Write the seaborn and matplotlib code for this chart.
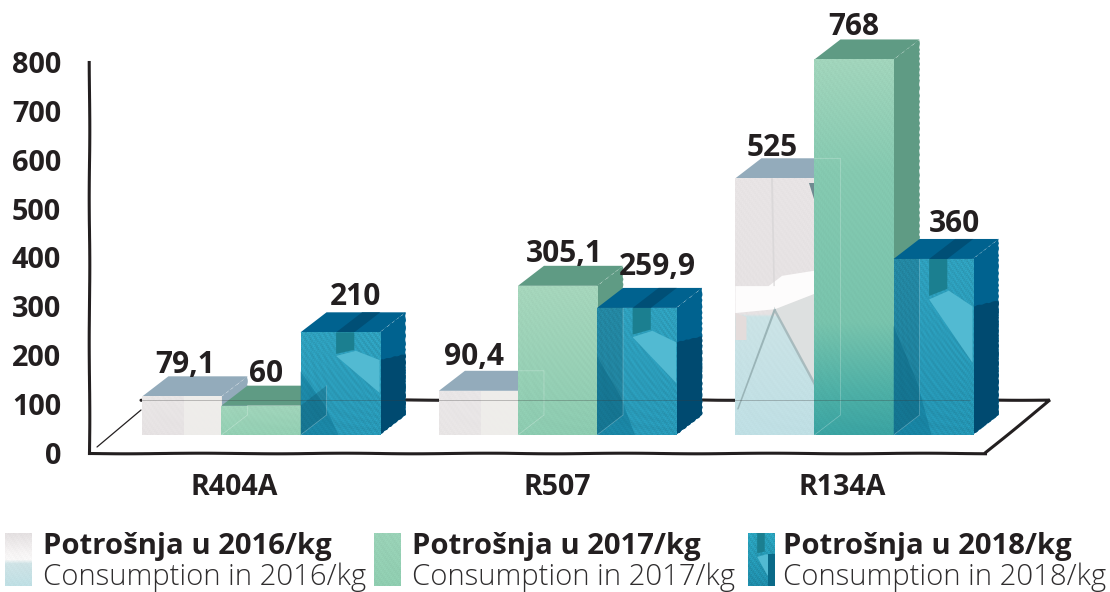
import numpy as np
import pandas as pd
import seaborn as sns
import matplotlib
matplotlib.use("Agg")
import matplotlib.pyplot as plt
from matplotlib.colors import to_rgb
from matplotlib.patches import Polygon

# ---- data -------------------------------------------------------------
refrigerants = ["R404A", "R507", "R134A"]
years = ["2016", "2017", "2018"]
values_2016 = [79.1, 90.4, 525]
values_2017 = [60, 305.1, 768]
values_2018 = [210, 259.9, 360]
value_labels_2016 = ["79,1", "90,4", "525"]
value_labels_2017 = ["60", "305,1", "768"]
value_labels_2018 = ["210", "259,9", "360"]
y_ticks = [0, 100, 200, 300, 400, 500, 600, 700, 800]
legend_bold = ["Potrošnja u 2016/kg", "Potrošnja u 2017/kg", "Potrošnja u 2018/kg"]
legend_light = ["Consumption in 2016/kg", "Consumption in 2017/kg", "Consumption in 2018/kg"]

# ---- layout -----------------------------------------------------------
W, H = 1110, 592
PX_PER_UNIT = 0.489       # vertical pixels per kg
ZERO_PX = 453             # pixel row of the value 0
GROUP_PX = 296.5          # pixels between refrigerant groups
FIRST_GROUP_PX = 261      # pixel column of the first group centre
FLOOR_LIFT = 36.8         # bars stand this far up the floor plane (kg units)
DEPTH_X = 26 / GROUP_PX   # receding offset of the boxes
DEPTH_Y = 20 / PX_PER_UNIT
INK = "#231f20"


def x_of(px):
    return (px - FIRST_GROUP_PX) / GROUP_PX


def y_of(px):
    return (ZERO_PX - px) / PX_PER_UNIT


def gradient(x0, x1, y0, y1, stops, grain):
    """RGB array with a vertical colour ramp and a fine mottled ripple."""
    nx = max(int((x1 - x0) * GROUP_PX), 4)
    ny = max(int((y1 - y0) * PX_PER_UNIT), 4)
    xx, yy = np.meshgrid(np.arange(nx), np.arange(ny))
    pos = [s[0] for s in stops]
    rgb = np.array([to_rgb(s[1]) for s in stops])
    f = np.linspace(0, 1, ny)
    ramp = np.stack([np.interp(f, pos, rgb[:, c]) for c in range(3)], axis=-1)
    img = np.repeat(ramp[:, None, :], nx, axis=1)
    ripple = (np.sin(xx * 1.13 + yy * 0.87) + 0.8 * np.sin(xx * 2.31 - yy * 1.37)
              + 0.7 * np.sin(xx * 0.71 + yy * 3.13) + 0.6 * np.sin(xx * 3.7 + yy * 2.9)
              + 0.5 * np.sin(xx * yy * 0.013))
    return np.clip(img * (1 + grain * ripple[..., None]), 0, 1)


# Front-face colour ramps, listed bottom to top for each bar
ramps = {
    "2016": [[(0, "#e6e2e3"), (1, "#e9e6e6")],
             [(0, "#e8e5e5"), (1, "#e9e6e7")],
             [(0, "#bfdfe4"), (0.46, "#cbe3e6"), (0.47, "#e6e2e3"), (1, "#e8e4e5")]],
    "2017": [[(0, "#93cfb3"), (1, "#a0d4ba")],
             [(0, "#8ccbb0"), (1, "#a6d6bc")],
             [(0, "#3aa3a2"), (0.12, "#4fb0a6"), (0.3, "#78c3ac"), (0.7, "#85c9b0"), (1, "#a2d5bc")]],
    "2018": [[(0, "#2898b6"), (1, "#2fa0bd")],
             [(0, "#2898b6"), (1, "#2fa0bd")],
             [(0, "#2494b2"), (1, "#2fa0bd")]],
}
top_colors = {"2016": "#93abbb", "2017": "#5f9b84", "2018": "#00628f"}
side_dark = {"2016": "#93abbb", "2017": "#5f9b84", "2018": "#004a70"}
grain_amount = {"2016": 0.006, "2017": 0.01, "2018": 0.035}

# ---- chart ------------------------------------------------------------
sns.set_theme(style="white")
plt.rcParams["font.family"] = ["Open Sans", "DejaVu Sans"]

df = pd.DataFrame({
    "refrigerant": refrigerants * 3,
    "year": np.repeat(years, 3),
    "kg": values_2016 + values_2017 + values_2018,
})

fig = plt.figure(figsize=(W / 100, H / 100), dpi=100, facecolor="white")
ax = fig.add_axes([0, 0, 1, 1], facecolor="none")
palette = dict(zip(years, ["#e6e2e3", "#93cfb3", "#2898b6"]))
sns.barplot(data=df, x="refrigerant", y="kg", hue="year", order=refrigerants,
            hue_order=years, palette=palette, width=0.80, gap=0,
            bottom=FLOOR_LIFT, legend=False, ax=ax, linewidth=0, errorbar=None)

ax.set_xlim(x_of(0), x_of(W))
ax.set_ylim(y_of(H), y_of(0))
ax.set_xlabel("")
ax.set_ylabel("")

# Axis frame drawn as the corner of the floor and wall
sketch = (0.3, 160, 2)
left_x, right_x = x_of(89), x_of(985)
ax.spines["top"].set_visible(False)
ax.spines["right"].set_visible(False)
ax.spines["left"].set_position(("data", left_x))
ax.spines["left"].set_bounds(0, 800)
ax.spines["bottom"].set_position(("data", 0))
ax.spines["bottom"].set_bounds(left_x, right_x)
for name in ("left", "bottom"):
    ax.spines[name].set_color(INK)
    ax.spines[name].set_linewidth(2.2)
    ax.spines[name].set_sketch_params(*sketch)
    ax.spines[name].set_zorder(1)

ax.set_yticks(y_ticks)
ax.set_yticklabels([str(t) for t in y_ticks], fontweight="bold", fontsize=20.8, color=INK,
                   va="center_baseline")
ax.tick_params(axis="y", length=0, pad=20)
ax.set_xticks([x_of(234), x_of(557), x_of(842)])
ax.set_xticklabels(refrigerants, fontweight="bold", fontsize=20.5, color=INK)
ax.tick_params(axis="x", length=0, pad=14.5)

# Floor outline behind the bars
back_y = y_of(400)
floor_line, = ax.plot([right_x, x_of(1050), x_of(141)], [0, back_y, back_y], color=INK, lw=2.2,
                      zorder=1, solid_joinstyle="miter")
floor_line.set_sketch_params(*sketch)
ax.plot([x_of(97), x_of(141)], [y_of(447), y_of(410)], color=INK, lw=0.9, zorder=1)

# Turn each flat bar into a textured box
boxes = {}
for i, year in enumerate(years):
    for j, bar in enumerate(ax.containers[i]):
        x0, x1 = bar.get_x(), bar.get_x() + bar.get_width()
        y0, y1 = bar.get_y(), bar.get_y() + bar.get_height()
        boxes[year, j] = (x0, x1, y0, y1)
        base = 2 + 2 * i

        top = Polygon([(x0, y1), (x1, y1), (x1 + DEPTH_X, y1 + DEPTH_Y), (x0 + DEPTH_X, y1 + DEPTH_Y)],
                      facecolor=top_colors[year], edgecolor="none", zorder=base)
        side = Polygon([(x1, y0), (x1, y1), (x1 + DEPTH_X, y1 + DEPTH_Y), (x1 + DEPTH_X, y0 + DEPTH_Y)],
                       facecolor=top_colors[year], edgecolor="none", zorder=base)
        side.set_sketch_params(0.35, 7, 2)
        ax.add_patch(side)
        ax.add_patch(top)

        bar.set_zorder(base + 0.5)
        img = ax.imshow(gradient(x0, x1, y0, y1, ramps[year][j], grain_amount[year]),
                        extent=[x0, x1, y0, y1], origin="lower", aspect="auto",
                        zorder=base + 0.6, interpolation="bilinear")
        img.set_clip_path(bar)

ax.set_xlim(x_of(0), x_of(W))
ax.set_ylim(y_of(H), y_of(0))


def facet(box, pts, color, alpha=1.0, z=0.7, base=2):
    """Add a polygon given in fractions of a bar's front face."""
    x0, x1, y0, y1 = box
    xy = [(x0 + fx * (x1 - x0), y0 + fy * (y1 - y0)) for fx, fy in pts]
    poly = Polygon(xy, closed=True, facecolor=color, edgecolor="none", alpha=alpha, zorder=base + z)
    ax.add_patch(poly)
    return poly


# Pale right-hand pane on the two short 2016 boxes
for j in (0, 1):
    facet(boxes["2016", j], [(0.53, 0), (1, 0), (1, 1), (0.53, 1)], "#efeeeb", 0.9)

# Cracked-glass panes on the tall 2016 box
tall = boxes["2016", 2]
facet(tall, [(0.5, 0.49), (1, 0.55), (1, 0.2)], "#dde0e0")
facet(tall, [(0, 0.475), (0.14, 0.46), (0.14, 0.37), (0, 0.37)], "#e4dcdb")
facet(tall, [(0, 0.58), (0.42, 0.58), (0.59, 0.62), (1, 0.64), (1, 0.55), (0.5, 0.49), (0, 0.475)], "#fdfcfc")
facet(tall, [(0.485, 0.49), (0.515, 0.49), (0.04, 0.1), (0.02, 0.1)], "#8fa9ac", 0.8)
facet(tall, [(0.49, 0.5), (0.5, 0.475), (1, 0.19), (1, 0.21)], "#9fb2b5", 0.8)
facet(tall, [(0.45, 1), (0.475, 1), (0.5, 0.58), (0.48, 0.58)], "#d6d4d5", 0.7)
facet(tall, [(0.93, 0.98), (1, 0.98), (1, 0.92)], "#6f8a90")

# Light and dark panes shared by every 2018 box
for j in range(3):
    box = boxes["2018", j]
    x0, x1, y0, y1 = box
    facet(box, [(0.45, 0.77), (0.7, 0.82), (1, 0.73), (1, 0.41)], "#52bad2", 1, base=6)
    facet(box, [(0.45, 0.79), (0.68, 0.83), (0.68, 1), (0.45, 1)], "#1b7f90", 1, base=6)
    facet(box, [(0, 0.62), (0.3, 0.3), (0.48, 0), (0, 0)], "#0a6f8f", 0.45, base=6)
    # Darker lower part of the side wall, dark stripe running over the top
    split = y0 + 0.73 * (y1 - y0)
    low = Polygon([(x1, y0), (x1, split), (x1 + DEPTH_X, split + 0.3 * DEPTH_Y), (x1 + DEPTH_X, y0 + DEPTH_Y)],
                  facecolor=side_dark["2018"], edgecolor="none", zorder=6.1)
    low.set_sketch_params(0.35, 7, 2)
    ax.add_patch(low)
    span = x1 - x0
    ax.add_patch(Polygon([(x0 + 0.45 * span, y1), (x0 + 0.68 * span, y1),
                          (x0 + 0.68 * span + DEPTH_X, y1 + DEPTH_Y), (x0 + 0.45 * span + DEPTH_X, y1 + DEPTH_Y)],
                         facecolor="#004f76", edgecolor="none", zorder=6.1))

# Hidden edges showing through the front faces
for j in range(3):
    gx0, gx1, gy0, gy1 = boxes["2017", j]
    bx0, bx1, by0, by1 = boxes["2018", j]
    shade = Polygon([(gx1, gy0), (gx1, gy1), (gx1 + DEPTH_X, gy1 + DEPTH_Y), (gx1 + DEPTH_X, gy0 + DEPTH_Y)],
                    facecolor="#0b4f66", edgecolor="none", alpha=0.3, zorder=7)
    ax.add_patch(shade)
    shade.set_clip_path(ax.containers[2][j])
    edge, = ax.plot([gx1 + DEPTH_X, gx1 + DEPTH_X, gx1], [gy1 + DEPTH_Y, gy0 + DEPTH_Y, gy0],
                    color="white", lw=0.5, alpha=0.3, zorder=7.1)
    edge.set_clip_path(ax.containers[2][j])

    wx0, wx1, wy0, wy1 = boxes["2016", j]
    edge, = ax.plot([wx1, wx1 + DEPTH_X, wx1 + DEPTH_X, wx1], [wy1 + DEPTH_Y, wy1 + DEPTH_Y, wy0 + DEPTH_Y, wy0],
                    color="white", lw=0.5, alpha=0.3, zorder=5)
    edge.set_clip_path(ax.containers[1][j])

# Floor's back edge faintly visible through the boxes
ax.plot([x_of(141), x_of(970)], [back_y, back_y], color="#3a3a3a", lw=0.7, alpha=0.3, zorder=7.2)

# Value labels: offsets in pixels from each bar's top centre
label_shift = {
    "2016": [(3, 31), (-4, 34), (-3, 30)],
    "2017": [(5, 32), (7, 32), (0, 32)],
    "2018": [(15, 35), (21, 41), (21, 35)],
}
all_labels = dict(zip(years, [value_labels_2016, value_labels_2017, value_labels_2018]))
for year in years:
    for j, text in enumerate(all_labels[year]):
        x0, x1, y0, y1 = boxes[year, j]
        dx, dy = label_shift[year][j]
        ax.annotate(text, ((x0 + x1) / 2, y1), xytext=(dx * 0.72, dy * 0.72),
                    textcoords="offset points", ha="center", va="center",
                    fontweight="bold", fontsize=21.5, color=INK, zorder=10)

# Legend: swatch plus a bold and a light caption
swatch_left = [5, 374, 748]
text_left = [43, 412, 783]
swatch_ramps = [
    [(0, "#bfdfe4"), (0.42, "#cfe3e6"), (0.5, "#f8f7f7"), (0.62, "#f6f4f4"), (1, "#e4e0e1")],
    [(0, "#8fcdb0"), (1, "#9ad2b7")],
    [(0, "#1f8ba8"), (1, "#2ba3bd")],
]
for i in range(3):
    sw = fig.add_axes([swatch_left[i] / W, 1 - 586 / H, 27 / W, 53 / H])
    sw.imshow(gradient(0, 27 / GROUP_PX, 0, 53 / PX_PER_UNIT, swatch_ramps[i], grain_amount[years[i]]),
              origin="lower", aspect="auto", extent=[0, 1, 0, 1])
    if i == 2:
        sw.add_patch(Polygon([(0.34, 0.55), (0.7, 0.6), (1, 0.55), (1, 0.15), (0.72, 0.2)],
                             facecolor="#52bad2", edgecolor="none"))
        sw.add_patch(Polygon([(0.34, 0.62), (0.62, 0.65), (0.62, 1), (0.34, 1)],
                             facecolor="#1b7f90", edgecolor="none"))
        sw.add_patch(Polygon([(0.75, 0), (1, 0), (1, 0.6), (0.75, 0.6)],
                             facecolor="#0a6a88", edgecolor="none"))
    sw.axis("off")
    fig.text(text_left[i] / W, 1 - 554 / H, legend_bold[i], ha="left", va="baseline",
             fontweight="bold", fontsize=21.1, color=INK)
    fig.text(text_left[i] / W, 1 - 584.5 / H, legend_light[i], ha="left", va="baseline",
             fontweight="light", fontsize=21.1, color="#2f2d2e")

fig.savefig("out.png", dpi=100, facecolor="white")
